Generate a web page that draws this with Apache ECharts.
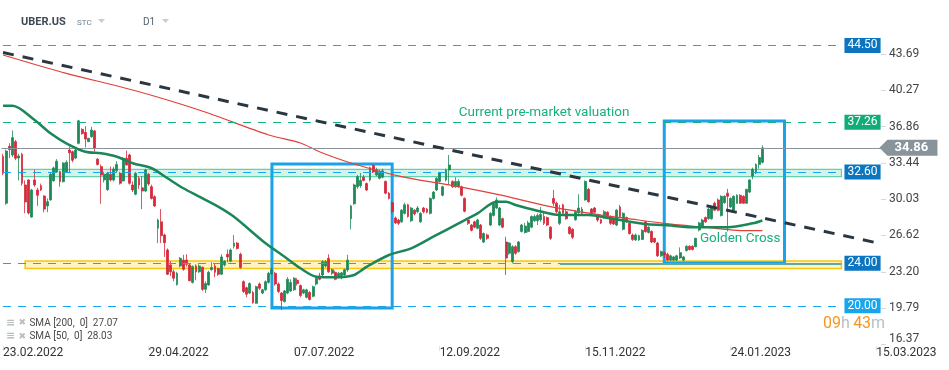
<!DOCTYPE html>
<html><head><meta charset="utf-8">
<script src="https://cdn.jsdelivr.net/npm/echarts@6/dist/echarts.min.js"></script>
<style>html,body{margin:0;padding:0;background:#fff}#c{width:949px;height:370px}</style>
</head><body><div id="c"></div>
<script>
// ---------- data ----------
const barCount = 278; // trading-day slots incl. future space
const tickIndex = [0, 46, 92, 138, 184, 230, 276];
const tickLabels = ['23.02.2022', '29.04.2022', '07.07.2022', '12.09.2022', '15.11.2022', '24.01.2023', '15.03.2023'];
const yTicks = [16.37, 19.79, 23.20, 26.62, 30.03, 33.44, 36.86, 40.27, 43.69];

// [open, close, low, high]
const ohlc = [
[34.05,32.47,32.3,34.3],[29.65,34.56,29.5,34.7],[35.0,34.7,33.9,35.3],[34.19,35.82,34.0,36.5],[35.44,33.88,33.7,35.6],
[33.9,34.1,31.8,34.3],[34.25,31.53,31.3,34.4],[31.37,29.77,28.7,31.8],[31.84,28.73,28.6,31.9],[28.35,30.9,28.3,31.0],
[31.84,31.37,31.2,32.8],[30.9,30.4,29.4,31.1],[31.3,30.9,30.8,31.5],[30.33,29.1,28.8,30.4],[29.4,29.8,28.8,30.1],
[29.96,32.37,29.9,32.5],[31.75,32.97,31.7,33.1],[32.6,33.6,32.5,33.8],[32.62,31.68,31.2,32.7],[31.68,33.44,31.6,33.5],
[32.6,33.5,32.5,33.7],[34.66,34.4,32.5,35.0],[34.5,33.7,33.5,34.6],[33.9,34.66,33.8,34.9],[35.29,37.4,35.2,37.5],
[36.6,36.2,36.1,36.7],[36.32,35.69,34.9,36.9],[35.44,35.76,35.4,35.8],[35.91,36.54,35.8,36.85],[36.45,34.8,34.5,36.55],
[33.8,33.3,33.2,33.9],[33.1,32.3,29.6,33.3],[31.84,32.37,31.6,32.6],[30.93,32.47,30.8,32.6],[32.37,31.84,31.7,33.1],
[31.84,32.87,31.7,33.1],[32.7,33.3,32.5,33.6],[32.47,31.53,31.4,32.6],[31.75,33.88,31.7,34.0],[33.88,33.25,33.2,34.6],
[34.19,31.53,31.4,34.3],[31.37,30.9,30.7,31.7],[30.5,32.47,30.4,32.6],[32.0,31.37,31.0,32.2],[31.1,30.8,29.1,32.2],
[30.8,32.78,30.7,32.9],[32.37,31.46,31.3,32.5],[31.2,30.1,30.0,31.4],[30.27,29.4,29.3,30.4],[27.3,28.07,25.9,28.2],
[27.9,26.6,25.9,29.1],[26.66,25.94,24.6,26.8],[25.25,22.97,22.9,25.4],[23.85,23.2,22.8,24.2],[23.2,22.6,22.3,23.4],
[22.0,23.06,21.9,23.2],[23.75,24.47,23.6,24.6],[24.31,23.44,23.3,24.8],[24.31,23.9,23.7,24.85],[23.85,22.37,22.3,24.0],
[22.2,23.7,22.1,23.8],[23.75,23.2,22.4,23.9],[23.2,23.75,23.1,23.9],[23.62,21.55,21.4,23.7],[21.55,22.1,21.2,22.3],
[21.96,23.15,21.9,23.3],[23.4,23.6,23.3,24.1],[23.75,23.15,22.7,24.0],[23.5,22.97,22.8,23.6],[22.97,24.6,22.9,24.85],
[23.85,24.2,23.7,24.3],[24.85,24.6,24.1,25.3],[24.2,25.25,24.1,25.4],[25.6,25.9,25.4,26.66],[25.9,25.4,25.3,26.0],
[24.85,23.6,23.5,25.0],[22.27,21.35,21.2,22.4],[21.7,21.1,20.8,21.8],[21.2,22.1,21.1,22.2],[21.25,20.3,20.2,21.4],
[20.24,21.8,20.2,21.9],[22.05,21.65,21.5,22.2],[21.2,21.5,21.1,21.6],[21.5,22.27,21.4,22.4],[22.2,23.06,22.1,23.2],
[23.0,23.4,22.9,23.6],[23.06,22.05,21.9,23.2],[22.05,21.35,21.2,22.2],[21.2,20.5,19.6,21.3],[20.4,21.4,20.3,21.5],
[21.2,22.5,21.1,22.7],[21.4,22.2,21.3,22.5],[21.5,22.6,21.4,22.7],[22.4,22.1,21.9,22.6],[21.9,20.97,20.8,22.0],
[21.2,21.5,21.1,21.6],[20.8,21.5,20.7,21.6],[21.25,20.6,20.5,21.4],[20.9,21.8,20.8,21.9],[22.05,22.6,21.9,22.7],
[22.8,22.5,22.4,23.1],[22.9,24.15,22.8,24.3],[23.75,24.15,23.6,24.3],[24.47,23.2,23.1,24.85],[23.06,23.4,22.9,23.5],
[23.15,22.5,22.4,23.3],[22.75,23.06,22.6,23.2],[22.7,23.1,22.5,23.2],[22.9,23.4,22.8,23.5],[23.37,24.3,23.2,24.8],
[28.2,29.4,27.2,29.5],[29.6,31.37,29.5,31.5],[31.2,32.15,31.0,32.3],[31.3,31.8,31.1,32.5],[32.1,31.8,31.7,32.3],
[31.5,30.9,30.8,31.6],[31.84,33.0,31.7,33.1],[33.2,32.6,32.5,33.3],[32.3,32.8,32.2,33.0],[32.0,32.6,31.9,32.8],
[32.1,32.7,32.0,32.9],[31.7,30.6,30.5,31.8],[30.6,30.1,30.0,30.7],[29.7,28.85,28.7,29.8],[28.26,27.8,27.7,28.4],
[28.07,27.76,27.6,28.2],[27.9,29.0,27.8,29.1],[28.7,29.5,28.6,29.7],[29.5,28.4,28.3,29.6],[28.0,29.2,27.9,29.3],
[29.0,28.65,28.5,29.1],[28.85,29.2,28.7,29.4],[27.9,28.7,27.8,28.8],[29.2,28.85,28.7,29.3],[29.1,28.8,28.7,29.2],
[28.7,30.1,28.6,30.2],[30.1,30.7,30.0,30.8],[30.9,32.0,30.8,32.1],[31.7,32.5,31.6,32.6],[30.4,31.2,30.3,31.3],
[31.84,32.78,31.7,32.9],[32.78,33.25,31.4,34.19],[31.7,31.2,31.1,31.8],[31.2,31.7,31.1,32.1],[31.2,31.7,31.1,31.9],
[31.2,30.4,30.3,31.3],[30.1,28.9,28.8,30.2],[28.07,27.76,27.6,28.2],[27.6,27.1,27.0,27.7],[27.9,27.4,27.3,28.0],
[27.3,28.07,27.2,28.2],[27.6,26.35,26.2,27.7],[26.0,26.8,25.9,26.9],[26.66,26.35,26.2,26.8],[27.6,28.7,27.5,28.8],
[28.5,29.6,28.4,29.7],[29.2,29.96,29.1,30.2],[27.6,29.2,27.5,29.3],[28.2,27.4,27.3,28.3],[26.0,24.5,22.9,26.5],
[24.94,25.9,24.8,26.0],[24.15,25.56,24.0,25.7],[25.56,24.94,24.8,25.7],[25.1,26.0,25.0,26.1],[27.0,27.6,26.9,27.7],
[26.9,27.5,26.8,27.8],[27.0,27.8,26.9,28.0],[27.4,28.4,27.3,28.5],[28.0,28.4,27.9,28.6],[28.0,28.5,27.6,28.7],
[28.1,28.6,27.9,29.3],[28.4,27.76,27.6,28.8],[28.3,27.6,27.5,28.4],[27.4,26.35,26.2,27.5],[30.1,29.65,29.4,30.9],
[29.65,28.85,28.7,29.8],[27.76,28.85,27.6,29.5],[29.5,28.7,28.6,29.6],[28.85,28.2,28.1,29.0],[27.4,26.8,26.7,27.5],
[27.2,26.45,26.3,27.3],[28.1,28.85,28.0,29.0],[28.76,29.2,28.6,30.5],[28.7,29.1,28.6,29.3],[29.96,31.7,29.9,31.8],
[30.96,29.8,29.7,31.1],[29.1,28.7,28.6,29.2],[29.2,28.8,28.7,29.3],[28.4,28.07,27.9,28.5],[28.1,27.8,27.7,28.2],
[28.3,28.85,28.2,29.0],[28.8,28.4,28.3,28.9],[28.4,27.76,27.6,28.5],[28.2,27.7,27.6,28.3],[27.6,29.0,27.5,29.1],
[29.3,28.4,28.3,29.5],[27.2,28.7,27.1,28.8],[28.3,27.9,27.8,28.4],[27.76,26.8,26.7,27.9],[26.66,26.25,26.1,26.8],
[26.2,26.66,26.1,26.8],[26.2,26.6,26.1,26.7],[26.25,27.1,26.2,27.2],[27.9,26.97,26.9,28.0],[26.9,27.4,26.8,27.5],
[27.0,26.0,25.9,27.1],[26.35,26.0,25.9,26.4],[25.9,24.7,24.6,26.0],[24.7,25.1,24.6,25.2],[25.0,24.8,24.5,25.1],
[24.85,24.3,24.2,25.0],[24.3,24.7,24.2,24.8],[24.3,24.6,24.2,24.7],[24.3,24.7,24.2,24.8],[24.5,25.0,24.4,25.5],
[24.3,24.6,24.2,24.7],[25.2,25.6,25.1,25.7],[25.6,25.3,25.2,25.7],[25.6,25.3,25.2,25.7],[25.56,26.35,25.5,26.4],
[27.13,27.8,27.0,27.9],[27.5,28.07,27.4,28.2],[28.3,27.9,27.8,28.4],[28.2,29.1,28.1,29.2],[28.2,29.3,28.1,29.4],
[29.65,29.0,28.9,29.8],[29.96,29.0,28.9,30.1],[28.5,30.3,28.4,30.4],[29.7,30.3,29.6,30.4],[30.6,30.3,27.0,31.0],
[29.3,30.1,29.2,30.2],[29.0,30.3,28.9,30.4],[29.65,30.4,29.6,30.5],[30.4,29.65,29.6,30.5],[30.3,29.65,29.6,30.4],
[29.65,30.96,29.6,31.0],[30.7,31.84,30.6,31.9],[32.2,32.84,31.9,33.0],[32.5,33.3,32.4,33.4],[33.3,33.95,32.9,34.2],
[33.5,34.86,33.4,35.1]
];

// moving averages: [bar index, value]
const sma200 = [[0,43.6],[20,41.87],[41,40.3],[62,38.42],[84,36.07],[94,35.32],[100,34.5],[110,33.44],[126,32.15],
  [141,31.37],[157,30.43],[173,29.33],[189,28.54],[197,28.23],[209,27.76],[222,27.39],[232,27.1],[240,27.07]];
const sma50 = [[0,38.83],[3,38.83],[10,37.48],[15,36.23],[20,35.29],[26,34.5],[31,34.35],[36,34.03],[41,33.41],
  [47,32.94],[52,32.0],[57,31.06],[62,30.27],[68,29.33],[73,28.38],[78,27.13],[83,25.88],[89,24.62],[94,23.53],
  [99,22.74],[105,22.68],[111,22.9],[115,23.68],[122,24.78],[129,25.41],[136,26.5],[144,27.76],[150,28.7],
  [156,29.8],[159,29.8],[162,29.49],[168,29.02],[176,28.54],[185,28.54],[192,28.23],[203,27.7],[209,27.6],
  [218,27.39],[229,27.39],[237,27.76],[240,28.03]];
const trendLine = [[0,43.83],[277,25.87]];

const levels = [44.50, 37.26, 32.60, 24.00, 20.00];
const levelFib = ['38.2', '', '61.8', '78.6', ''];
const lastPrice = 34.86;
const supportSegment = [176, 265, 23.93];
const bands = [[6, 32.84, 265, 32.15], [7, 24.22, 265, 23.50]];
const boxes = [[85, 33.34, 123, 19.80], [209, 37.39, 247, 24.03]];
const notes = [['Current pre-market valuation', 171, 38.15], ['Golden Cross', 233, 26.33]];
const legendRows = ['SMA [200,  0]  27.07', 'SMA [50,  0]  28.03'];

// ---------- styles ----------
const levelStyle = [
  {line: '#1aa6ee', box: '#0b76bf'},
  {line: '#13b37f', box: '#10ad78'},
  {line: '#1aa6ee', box: '#0b76bf'},
  {line: '#1aa6ee', box: '#0b76bf'},
  {line: '#1aa6ee', box: '#17a5ec'}
];
const UP = '#1f8a58', DOWN = '#d42a3a';
const FONT = 'Roboto, "Noto Sans", sans-serif';

const categories = Array.from({length: barCount}, (_, i) => String(i));
const isTick = (i) => tickIndex.indexOf(i) >= 0;

const markLineData = [];
levels.forEach((v, k) => {
  const st = levelStyle[k];
  markLineData.push([
    {coord: [0, v], lineStyle: {color: st.line, type: [8, 7], width: 1.2},
     label: {show: true, position: 'end', distance: 3, formatter: v.toFixed(2), color: '#fff',
       backgroundColor: st.box, padding: [2, 3, 1, 3], fontSize: 12, fontFamily: FONT}},
    {coord: [265, v]}
  ]);
  if (levelFib[k]) {
    markLineData.push([
      {coord: [0, v], lineStyle: {opacity: 0, width: 0},
       label: {show: true, position: 'insideEndTop', distance: 2, formatter: levelFib[k], color: '#36aff0',
         fontSize: 11, fontFamily: FONT}},
      {coord: [265, v]}
    ]);
  }
});
markLineData.push({yAxis: lastPrice, lineStyle: {color: '#8a949a', type: 'solid', width: 1.2}, label: {show: false}});
markLineData.push([
  {coord: [supportSegment[0], supportSegment[2]], lineStyle: {color: '#5aa9a3', type: 'solid', width: 2}, label: {show: false}},
  {coord: [supportSegment[1], supportSegment[2]]}
]);

const chart = echarts.init(document.getElementById('c'), null, {renderer: 'canvas'});
chart.setOption({
  animation: false,
  backgroundColor: '#fff',
  grid: {left: 1, right: 68, top: 0, bottom: 24},
  xAxis: {
    type: 'category', data: categories, boundaryGap: true,
    axisLine: {show: false},
    axisTick: {show: true, alignWithLabel: true, interval: (i) => isTick(i), length: 5, lineStyle: {color: '#e2e2e2'}},
    axisLabel: {interval: (i) => isTick(i), formatter: (v, i) => tickLabels[tickIndex.indexOf(Number(v))] || '',
      align: 'left', margin: 1, color: '#333', fontSize: 12, fontFamily: FONT, hideOverlap: false},
    splitLine: {show: false}
  },
  yAxis: {
    type: 'value', position: 'right', min: 16.22, max: 48.77, scale: true,
    axisLine: {show: false}, splitLine: {show: false},
    axisTick: {show: true, customValues: yTicks, length: 5, lineStyle: {color: '#d8d8d8'}},
    axisLabel: {customValues: yTicks, margin: 8, color: '#444', fontSize: 12, fontFamily: FONT,
      formatter: (v) => v === yTicks[0] ? '{low|' + v.toFixed(2) + '}' : v.toFixed(2),
      rich: {low: {padding: [0, 0, 10, 0], fontSize: 12, color: '#444', fontFamily: FONT}}}
  },
  series: [
    {
      type: 'candlestick', data: ohlc, barWidth: 2.4,
      itemStyle: {color: UP, color0: DOWN, borderColor: UP, borderColor0: DOWN, borderWidth: 0.8},
      markArea: {
        silent: true,
        data: bands.map((b, k) => [
          {coord: [b[0], b[1]], itemStyle: k === 0
            ? {color: 'rgba(120,222,192,0.32)', borderColor: '#62d2ae', borderWidth: 1.2}
            : {color: 'rgba(255,232,140,0.5)', borderColor: '#f6c812', borderWidth: 1.5}},
          {coord: [b[2], b[3]]}
        ])
      },
      markLine: {silent: true, symbol: ['none', 'none'], animation: false, data: markLineData},
      markPoint: {
        silent: true, animation: false,
        data: [
          {coord: [277, lastPrice], symbol: 'path://M0,8L8,0L58,0L58,16L8,16Z', symbolSize: [58, 16],
           symbolOffset: [29, 0], itemStyle: {color: '#89939a'},
           label: {show: true, formatter: lastPrice.toFixed(2), color: '#fff', fontWeight: 'bold', fontSize: 13,
             fontFamily: FONT, position: 'inside', offset: [3, 0]}},
          ...notes.map(n => ({coord: [n[1], n[2]], symbol: 'circle', symbolSize: 0,
            label: {show: true, position: 'inside', formatter: n[0], color: '#18b07c', fontSize: 13.5, fontFamily: FONT}}))
        ]
      },
      z: 3
    },
    {type: 'line', data: sma200, smooth: 0.3, symbol: 'none', lineStyle: {color: '#e2403a', width: 1.2}, z: 4},
    {type: 'line', data: sma50, smooth: 0.3, symbol: 'none', lineStyle: {color: '#1b8758', width: 2.5}, z: 5},
    {type: 'line', data: trendLine, symbol: 'none', lineStyle: {color: '#2a3741', width: 3, type: [11, 9]}, z: 6},
    {
      type: 'line', data: [], z: 7,
      markArea: {
        silent: true,
        itemStyle: {color: 'rgba(0,0,0,0)', borderColor: '#1aa3e8', borderWidth: 3},
        data: boxes.map(b => [{coord: [b[0], b[1]]}, {coord: [b[2], b[3]]}])
      }
    }
  ],
  graphic: [
    {type: 'text', left: 21, top: 17, style: {text: 'UBER.US', fill: '#3e4a55', font: 'bold 11px ' + FONT}},
    {type: 'text', left: 77, top: 19, style: {text: 'STC', fill: '#6e8295', font: '8px ' + FONT}},
    {type: 'polygon', shape: {points: [[98, 19], [105, 19], [101.5, 23]]}, style: {fill: '#c6ccd2'}},
    {type: 'text', left: 143, top: 17, style: {text: 'D1', fill: '#55616b', font: '10px ' + FONT}},
    {type: 'polygon', shape: {points: [[162, 19], [169, 19], [165.5, 23]]}, style: {fill: '#c6ccd2'}},
    ...legendRows.map((t, k) => ({type: 'text', left: 6, top: 317 + k * 13.5,
      style: {text: '{i|≡} {x|✖} {t|' + t + '}',
        rich: {i: {fill: '#b9bec3', font: 'bold 11px "DejaVu Sans"'}, x: {fill: '#b9bec3', font: '9px "DejaVu Sans"'},
               t: {fill: '#4a4a4a', font: '10px ' + FONT}}}})),
    {type: 'text', left: 823, top: 316, style: {text: '{o|09}{g|h} {o|43}{g|m}',
      rich: {o: {fill: '#f5961f', font: '16px ' + FONT}, g: {fill: '#b9bfc4', font: '16px ' + FONT}}}}
  ]
});
</script></body></html>
